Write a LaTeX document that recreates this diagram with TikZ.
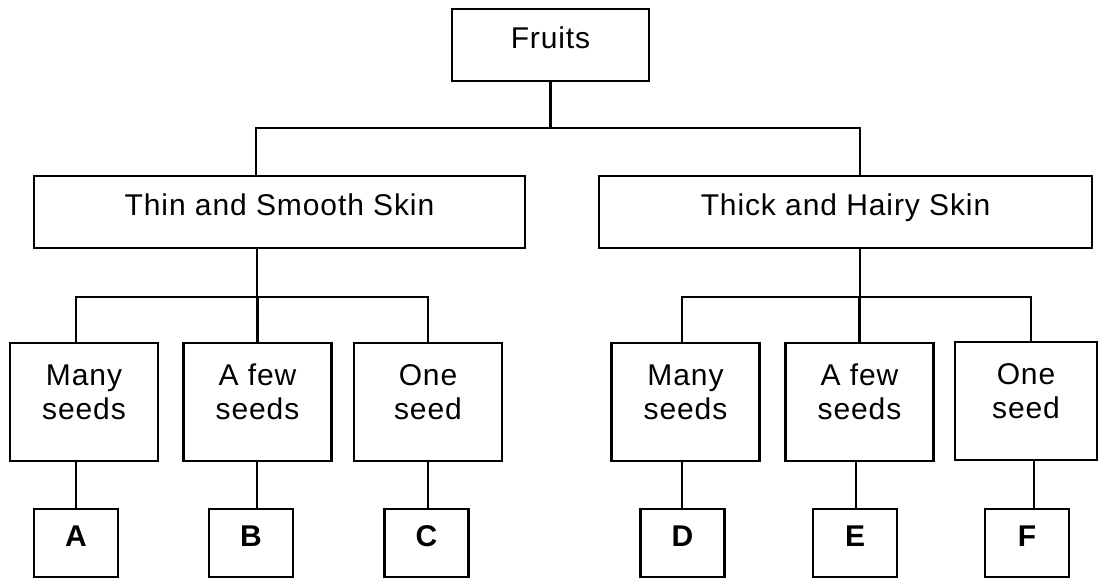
\documentclass[tikz,border=0pt]{standalone}
\usepackage{fontspec}
\newfontfamily\chartfont[LetterSpace=3]{Liberation Sans}
\usepackage{tikz}
\usetikzlibrary{positioning}

\tikzset{
        box/.style={draw,line width=1.1pt,inner sep=0pt,minimum height=36pt,text height=0.72em,text depth=0.42em},
        seedbox/.style={draw,line width=1.1pt,inner sep=0pt,minimum width=74pt,minimum height=59pt},
        seedtext/.style={align=center,inner sep=0pt,yshift=5pt},
        tagbox/.style={draw,line width=1.1pt,inner sep=0pt,minimum width=42pt,minimum height=34pt,text height=0.72em,text depth=0.36em,font=\chartfont\fontsize{15}{17}\selectfont\bfseries},
        link/.style={line width=1.1pt}
}

\begin{document}
\begin{tikzpicture}[x=0.5pt,y=-0.5pt,font=\chartfont\fontsize{15}{17}\selectfont]
        \useasboundingbox (0,0) rectangle (1098,580);
        \node[box,minimum width=98.5pt] (fruits) at (550.5,45) {Fruits};
        \node[box,minimum width=245.5pt] (thin) at (279.5,212) {Thin and Smooth Skin};
        \node[box,minimum width=246.5pt] (thick) at (845.5,212) {Thick and Hairy Skin};
        \node[seedbox,label={[seedtext]center:{Many\\seeds}}] (many1) at (84,402) {};
        \node[seedbox,label={[seedtext]center:{A few\\seeds}}] (few1) at (257.5,402) {};
        \node[seedbox,label={[seedtext]center:{One\\seed}}] (one1) at (428,402) {};
        \node[seedbox,label={[seedtext]center:{Many\\seeds}}] (many2) at (685.5,402) {};
        \node[seedbox,label={[seedtext]center:{A few\\seeds}}] (few2) at (859.5,402) {};
        \node[seedbox,minimum width=71pt,label={[seedtext]center:{One\\seed}}] (one2) at (1026,401) {};
        \node[tagbox] (A) at (76,543) {A};
        \node[tagbox] (B) at (251,543) {B};
        \node[tagbox] (C) at (426.5,543) {C};
        \node[tagbox] (D) at (682.5,543) {D};
        \node[tagbox] (E) at (855,543) {E};
        \node[tagbox] (F) at (1027,543) {F};
        \coordinate (topL) at (256,128);
        \coordinate (topR) at (860,128);
        \coordinate (midL) at (76,297);
        \coordinate (midR) at (428,297);
        \coordinate (sideL) at (682,297);
        \coordinate (sideR) at (1031,297);
        \draw[link] (fruits.south) -- (fruits.south |- topL);
        \draw[link] (topL |- thin.north) -- (topL) -- (topR) -- (topR |- thick.north);
        \draw[link] (thin.south) ++(-22.5,0) coordinate (thinOut) -- (thinOut |- midL);
        \draw[link] (midL |- many1.north) -- (midL) -- (midR) -- (midR |- one1.north);
        \draw[link] (few1.north) -- (few1.north |- midL);
        \draw[link] (thick.south) ++(14.5,0) coordinate (thickOut) -- (thickOut |- sideL);
        \draw[link] (sideL |- many2.north) -- (sideL) -- (sideR) -- (sideR |- one2.north);
        \draw[link] (few2.north) -- (few2.north |- sideL);
        \foreach \seeds/\tag/\x in {many1/A/76,few1/B/257,one1/C/428,many2/D/682,few2/E/856,one2/F/1034}
                \draw[link] (\x,0 |- \seeds.south) -- (\x,0 |- \tag.north);
\end{tikzpicture}
\end{document}
